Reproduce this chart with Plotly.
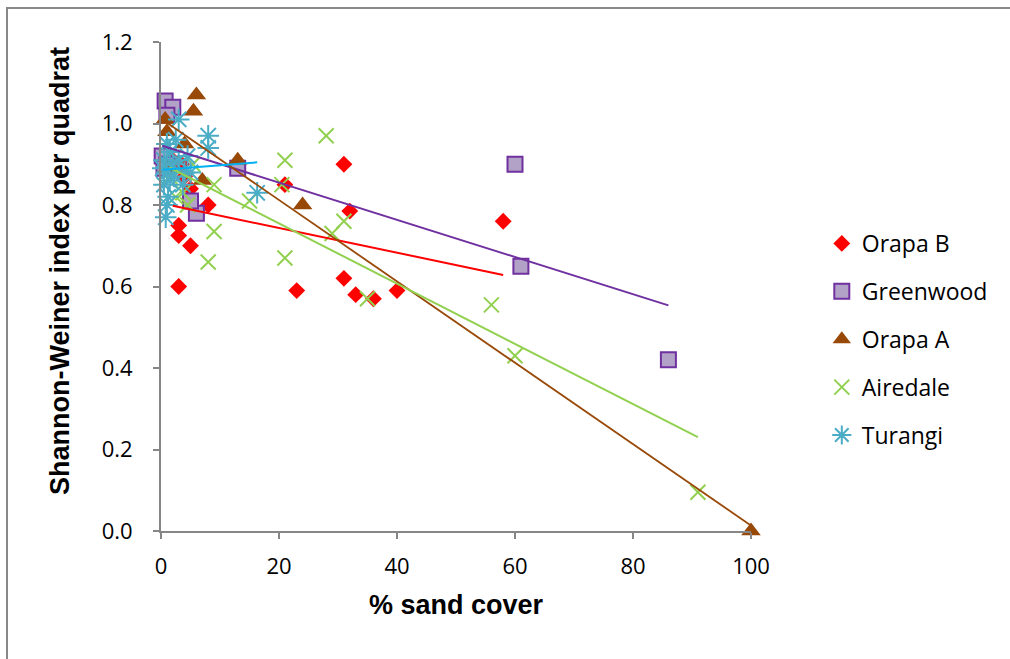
import numpy as np
import plotly.graph_objects as go

# ---- data ----
orapa_b_x = [31, 58, 21, 32, 23, 31, 33, 36, 40, 8, 3, 3, 5, 3, 2, 3.5, 5, 2, 4]
orapa_b_y = [0.90, 0.76, 0.85, 0.785, 0.59, 0.62, 0.58, 0.57, 0.59, 0.80, 0.75, 0.725, 0.70, 0.60, 0.90, 0.90, 0.84, 0.91, 0.87]

greenwood_x = [60, 61, 86, 13, 6, 5, 0.7, 2, 1, 0.2, 1, 0.5]
greenwood_y = [0.90, 0.65, 0.42, 0.89, 0.78, 0.81, 1.055, 1.04, 1.02, 0.92, 0.90, 0.89]

orapa_a_x = [100, 24, 13, 6, 5.5, 0.7, 1, 4, 7, 1]
orapa_a_y = [0.0, 0.80, 0.91, 1.07, 1.03, 1.01, 0.98, 0.95, 0.86, 0.89]

airedale_x = [91, 60, 56, 28, 21, 20.5, 21, 29, 31, 35, 15, 8, 9, 9, 5.4, 3.7, 1.5, 2.5, 4.5]
airedale_y = [0.095, 0.43, 0.555, 0.97, 0.91, 0.85, 0.67, 0.73, 0.76, 0.57, 0.81, 0.66, 0.735, 0.85, 0.90, 0.83, 0.87, 0.82, 0.80]

turangi_x = [0.8, 1.0, 1.2, 0.5, 1.5, 2.2, 1.0, 3.7, 2.0, 4.0, 5.0, 0.5, 3.0, 1.5, 4.5, 1.0, 2.5, 3.0, 8.0, 8.0, 16.3, 0.3]
turangi_y = [0.77, 0.80, 0.82, 0.85, 0.86, 0.87, 0.88, 0.85, 0.90, 0.88, 0.88, 0.91, 0.91, 0.93, 0.92, 0.95, 0.96, 1.01, 0.97, 0.94, 0.83, 0.89]

x_ticks = [0, 20, 40, 60, 80, 100]
y_ticks = [0.0, 0.2, 0.4, 0.6, 0.8, 1.0, 1.2]

series = [
    dict(name="Orapa B", x=orapa_b_x, y=orapa_b_y,
         marker=dict(symbol="diamond", size=13, color="#FF0000", line=dict(width=0)),
         trend="#FF0000", tw=2),
    dict(name="Greenwood", x=greenwood_x, y=greenwood_y,
         marker=dict(symbol="square", size=15, color="#B3A2C7", line=dict(color="#7030A0", width=2)),
         trend="#7030A0", tw=2),
    dict(name="Orapa A", x=orapa_a_x, y=orapa_a_y,
         marker=dict(symbol="triangle-up", size=17, color="#984807", line=dict(width=0)),
         trend="#984807", tw=1.8),
    dict(name="Airedale", x=airedale_x, y=airedale_y,
         marker=dict(symbol="x-thin-open", size=15, color="#92D050", line=dict(color="#92D050", width=2)),
         trend="#92D050", tw=2),
    dict(name="Turangi", x=turangi_x, y=turangi_y,
         marker=dict(symbol="asterisk-open", size=18, color="#4BACC6", line=dict(color="#4BACC6", width=2)),
         trend="#00B0F0", tw=2),
]

fig = go.Figure()
for s in series:
    fig.add_trace(go.Scatter(x=s["x"], y=s["y"], mode="markers", name=s["name"],
                             marker=s["marker"], legendgroup=s["name"], cliponaxis=False))
for s in series:
    xs = np.array(s["x"], dtype=float)
    ys = np.array(s["y"], dtype=float)
    m, b = np.polyfit(xs, ys, 1)
    xl = np.array([xs.min(), xs.max()])
    fig.add_trace(go.Scatter(x=xl, y=m * xl + b, mode="lines", showlegend=False,
                             line=dict(color=s["trend"], width=s["tw"]), hoverinfo="skip",
                             cliponaxis=False))

axis_color = "#868686"
fig.update_layout(
    width=1010, height=659,
    margin=dict(l=161, r=259, t=42, b=128),
    paper_bgcolor="white", plot_bgcolor="white",
    font=dict(family="Open Sans", size=22, color="#000000"),
    showlegend=True,
    legend=dict(x=1.12, y=0.632, xanchor="left", yanchor="top",
                font=dict(family="Open Sans", size=23, color="#000000"),
                traceorder="grouped", tracegroupgap=15, itemwidth=30,
                bgcolor="rgba(0,0,0,0)"),
    xaxis=dict(range=[0, 100], tickvals=x_ticks, ticktext=[str(v) for v in x_ticks],
               showgrid=False, zeroline=False, showline=True, linecolor=axis_color, linewidth=2,
               ticks="outside", ticklen=6, tickcolor=axis_color, tickwidth=1.5,
               ticklabelstandoff=9, tickfont=dict(family="Open Sans", size=22)),
    yaxis=dict(range=[0, 1.2], tickvals=y_ticks, ticktext=[f"{v:.1f}" for v in y_ticks],
               showgrid=False, zeroline=False, showline=True, linecolor=axis_color, linewidth=2,
               ticks="outside", ticklen=6, tickcolor=axis_color, tickwidth=1.5,
               ticklabelstandoff=16, tickfont=dict(family="Open Sans", size=22)),
    shapes=[dict(type="rect", xref="paper", yref="paper", x0=-0.261, y0=-0.5, x1=1.5, y1=1.0695,
                 line=dict(color="#898989", width=2), fillcolor="rgba(0,0,0,0)", layer="below")],
    annotations=[
        dict(text="<b>% sand cover</b>", xref="paper", yref="paper", x=0.5, y=-0.151,
             xanchor="center", yanchor="middle", showarrow=False,
             font=dict(family="Liberation Sans", size=27, color="#000000")),
        dict(text="<b>Shannon-Weiner index per quadrat</b>", xref="paper", yref="paper",
             x=-0.171, y=0.532, xanchor="center", yanchor="middle", textangle=-90, showarrow=False,
             font=dict(family="Liberation Sans", size=27, color="#000000")),
    ],
)

fig.write_html("out.html")
